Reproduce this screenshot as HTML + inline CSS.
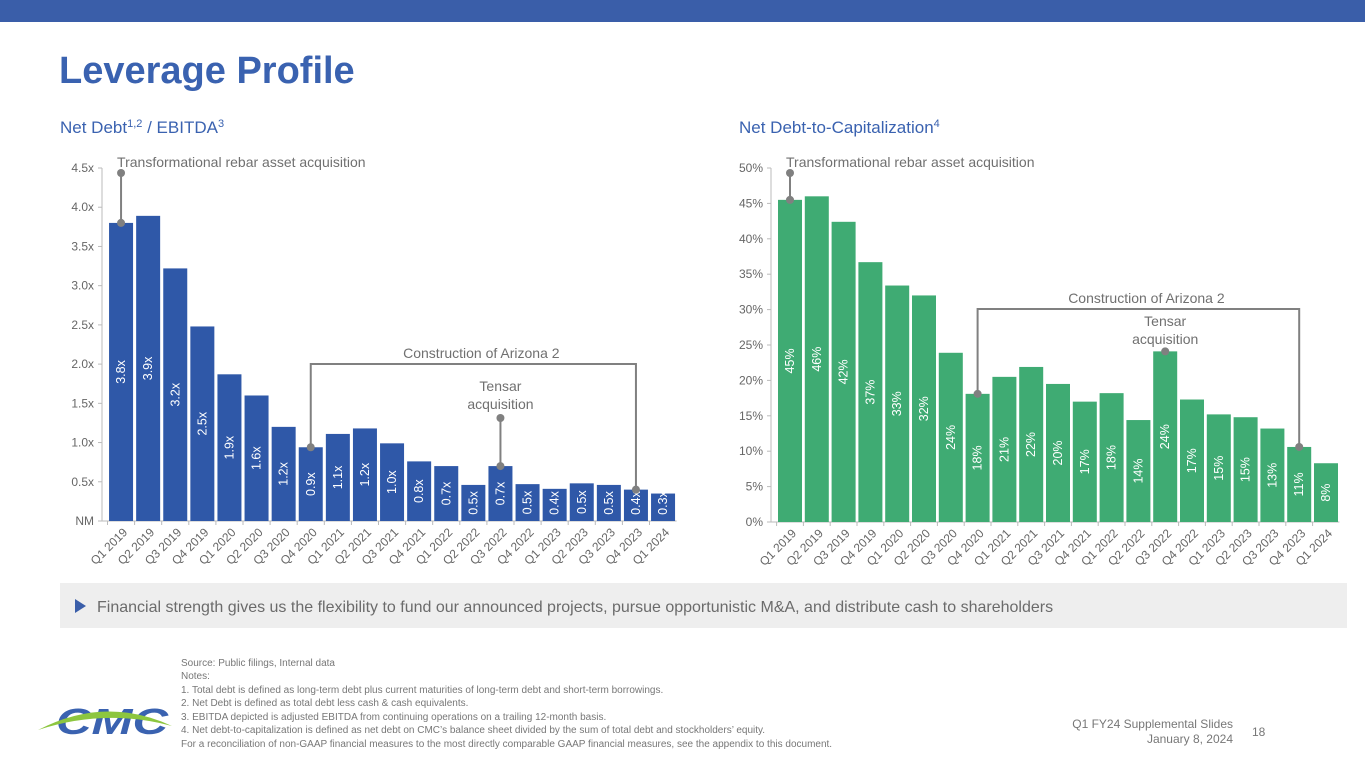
<!DOCTYPE html>
<html><head><meta charset="utf-8"><style>
html,body{margin:0;padding:0;background:#fff}
svg{display:block;font-family:"Liberation Sans",sans-serif}
</style></head><body>
<svg id="s" width="1365" height="768" viewBox="0 0 1365 768">
<rect x="0" y="0" width="1365" height="22" fill="#3a5ea9"/>
<text x="59" y="83" font-size="38" font-weight="bold" fill="#3a62b0">Leverage Profile</text>
<text x="60" y="133" font-size="17" fill="#3a62b0">Net Debt<tspan font-size="11" dy="-6">1,2</tspan><tspan dy="6"> / EBITDA</tspan><tspan font-size="11" dy="-6">3</tspan></text>
<text x="739" y="133" font-size="17" fill="#3a62b0">Net Debt-to-Capitalization<tspan font-size="11" dy="-6">4</tspan></text>
<g id="left"></g>
<g id="right"></g>
<rect x="60" y="583" width="1287" height="45" fill="#eeeeee"/>
<polygon points="75,599 75,613 86,606" fill="#3a5ea9"/>
<text x="97" y="612" font-size="16" fill="#6b6b6b">Financial strength gives us the flexibility to fund our announced projects, pursue opportunistic M&amp;A, and distribute cash to shareholders</text>
<g font-size="10" fill="#777">
<text x="181" y="666">Source: Public filings, Internal data</text>
<text x="181" y="679">Notes:</text>
<text x="181" y="693">1.   Total debt is defined as long-term debt plus current maturities of long-term debt and short-term borrowings.</text>
<text x="181" y="706">2.   Net Debt is defined as total debt less cash &amp; cash equivalents.</text>
<text x="181" y="720">3.   EBITDA depicted is adjusted EBITDA from continuing operations on a trailing 12-month basis.</text>
<text x="181" y="733">4.   Net debt-to-capitalization is defined as net debt on CMC’s balance sheet divided by the sum of total debt and stockholders’ equity.</text>
<text x="181" y="747">For a reconciliation of non-GAAP financial measures to the most directly comparable GAAP financial measures, see the appendix to this document.</text>
</g>
<g>
<text x="56" y="734" font-size="36" font-weight="bold" fill="#3a62b0" font-style="italic" textLength="112" lengthAdjust="spacingAndGlyphs">CMC</text>
<path d="M38,730 Q105,695 172,726 Q105,708 38,730Z" fill="#8dc63f"/>
</g>
<text x="1233" y="728" font-size="12" fill="#777" text-anchor="end">Q1 FY24 Supplemental Slides</text>
<text x="1233" y="743" font-size="12" fill="#777" text-anchor="end">January 8, 2024</text>
<text x="1252" y="736" font-size="12" fill="#777">18</text>
</svg>
<script>
const categories=["Q1 2019","Q2 2019","Q3 2019","Q4 2019","Q1 2020","Q2 2020","Q3 2020","Q4 2020","Q1 2021","Q2 2021","Q3 2021","Q4 2021","Q1 2022","Q2 2022","Q3 2022","Q4 2022","Q1 2023","Q2 2023","Q3 2023","Q4 2023","Q1 2024"];
const ebitdaValues=[3.8,3.89,3.22,2.48,1.87,1.6,1.2,0.94,1.11,1.18,0.99,0.76,0.7,0.46,0.7,0.47,0.41,0.48,0.46,0.4,0.35];
const ebitdaLabels=["3.8x","3.9x","3.2x","2.5x","1.9x","1.6x","1.2x","0.9x","1.1x","1.2x","1.0x","0.8x","0.7x","0.5x","0.7x","0.5x","0.4x","0.5x","0.5x","0.4x","0.3x"];
const ebitdaTicks=["NM","0.5x","1.0x","1.5x","2.0x","2.5x","3.0x","3.5x","4.0x","4.5x"];
const capValues=[45.5,46,42.4,36.7,33.4,32,23.9,18.1,20.5,21.9,19.5,17,18.2,14.4,24.1,17.3,15.2,14.8,13.2,10.6,8.3];
const capLabels=["45%","46%","42%","37%","33%","32%","24%","18%","21%","22%","20%","17%","18%","14%","24%","17%","15%","15%","13%","11%","8%"];
const capTicks=["0%","5%","10%","15%","20%","25%","30%","35%","40%","45%","50%"];

const NS="http://www.w3.org/2000/svg";
function mk(parent,tag,attrs,text){const e=document.createElementNS(NS,tag);for(const k in attrs)e.setAttribute(k,attrs[k]);if(text!==undefined)e.textContent=text;parent.appendChild(e);return e;}

function chart(g,cfg){
  const y=v=>cfg.y0-(v/cfg.max)*(cfg.y0-cfg.y1);
  const x=i=>cfg.x0+cfg.step*(i+0.5);
  const gray="#808080";
  cfg.ticks.forEach((t,i)=>{
    const v=i*cfg.tickStep;
    const tl=mk(g,'text',{x:cfg.ax-8,y:y(v)+4,'font-size':12,fill:'#666','text-anchor':'end'},t);
    
    
    mk(g,'line',{x1:cfg.ax-4,x2:cfg.ax,y1:y(v),y2:y(v),stroke:'#bbb'});
  });
  const ax=mk(g,'line',{x1:cfg.ax,x2:cfg.ax,y1:y(cfg.max),y2:cfg.y0,stroke:'#bbb'});
  
  
  const xa=mk(g,'line',{x1:cfg.ax,x2:cfg.x0+cfg.step*categories.length,y1:cfg.y0,y2:cfg.y0,stroke:'#bbb'});
  
  
  categories.forEach((c,i)=>{
    const v=cfg.values[i];const top=y(v);const cx=x(i);
    const b=mk(g,'rect',{x:cx-cfg.bw/2,y:top,width:cfg.bw,height:cfg.y0-top,fill:cfg.color});
    
    
    let ly=(top+cfg.y0)/2;
    ly=Math.min(ly,cfg.y0-18);
    const lb=mk(g,'text',{x:0,y:0,'font-size':12.5,fill:'#fff','text-anchor':'middle',transform:`translate(${cx+4},${ly}) rotate(-90)`},cfg.labels[i]);
    
    
    mk(g,'line',{x1:cfg.x0+cfg.step*i,x2:cfg.x0+cfg.step*i,y1:cfg.y0,y2:cfg.y0+4,stroke:'#bbb'});
    const xl=mk(g,'text',{x:0,y:0,'font-size':12,fill:'#666','text-anchor':'end',transform:`translate(${cx+7},${cfg.y0+12}) rotate(-45)`},c);
    
    
  });
  const a=mk(g,'g',{});
  
  
  const t0=y(cfg.values[0]);
  mk(a,'line',{x1:x(0),x2:x(0),y1:y(cfg.max)+5,y2:t0,stroke:gray,'stroke-width':2});
  mk(a,'circle',{cx:x(0),cy:y(cfg.max)+5,r:4,fill:gray});
  mk(a,'circle',{cx:x(0),cy:t0,r:4,fill:gray});
  mk(a,'text',{x:x(0)-4,y:y(cfg.max)-1,'font-size':14,fill:'#707070'},'Transformational rebar asset acquisition');
  const z=mk(g,'g',{});
  
  
  const i1=7,i2=19,yb=cfg.bracketY;
  mk(z,'polyline',{points:`${x(i1)},${y(cfg.values[i1])} ${x(i1)},${yb} ${x(i2)},${yb} ${x(i2)},${y(cfg.values[i2])}`,fill:'none',stroke:gray,'stroke-width':2});
  mk(z,'circle',{cx:x(i1),cy:y(cfg.values[i1]),r:4,fill:gray});
  mk(z,'circle',{cx:x(i2),cy:y(cfg.values[i2]),r:4,fill:gray});
  mk(z,'text',{x:(x(i1)+x(i2))/2+8,y:yb-6,'font-size':14,fill:'#707070','text-anchor':'middle'},'Construction of Arizona 2');
  const ts=mk(g,'g',{});
  
  
  const it=14,tt=y(cfg.values[it]);
  if(cfg.tensarLine){mk(ts,'line',{x1:x(it),x2:x(it),y1:cfg.tensarDotY,y2:tt,stroke:gray,'stroke-width':2});mk(ts,'circle',{cx:x(it),cy:cfg.tensarDotY,r:4,fill:gray});}
  mk(ts,'circle',{cx:x(it),cy:tt,r:4,fill:gray});
  mk(ts,'text',{x:x(it),y:cfg.tensarTextY,'font-size':14,fill:'#707070','text-anchor':'middle'},'Tensar');
  mk(ts,'text',{x:x(it),y:cfg.tensarTextY+18,'font-size':14,fill:'#707070','text-anchor':'middle'},'acquisition');
}
chart(document.getElementById('left'),{ax:102,x0:107.5,step:27.1,bw:24,y0:521,y1:168,max:4.5,tickStep:0.5,ticks:ebitdaTicks,values:ebitdaValues,labels:ebitdaLabels,color:"#2f58a8",bracketY:364,tensarLine:true,tensarDotY:418,tensarTextY:391});
chart(document.getElementById('right'),{ax:771,x0:776.6,step:26.8,bw:24,y0:522,y1:168,max:50,tickStep:5,ticks:capTicks,values:capValues,labels:capLabels,color:"#3fab73",bracketY:309,tensarLine:false,tensarTextY:326});
</script>
</body></html>
